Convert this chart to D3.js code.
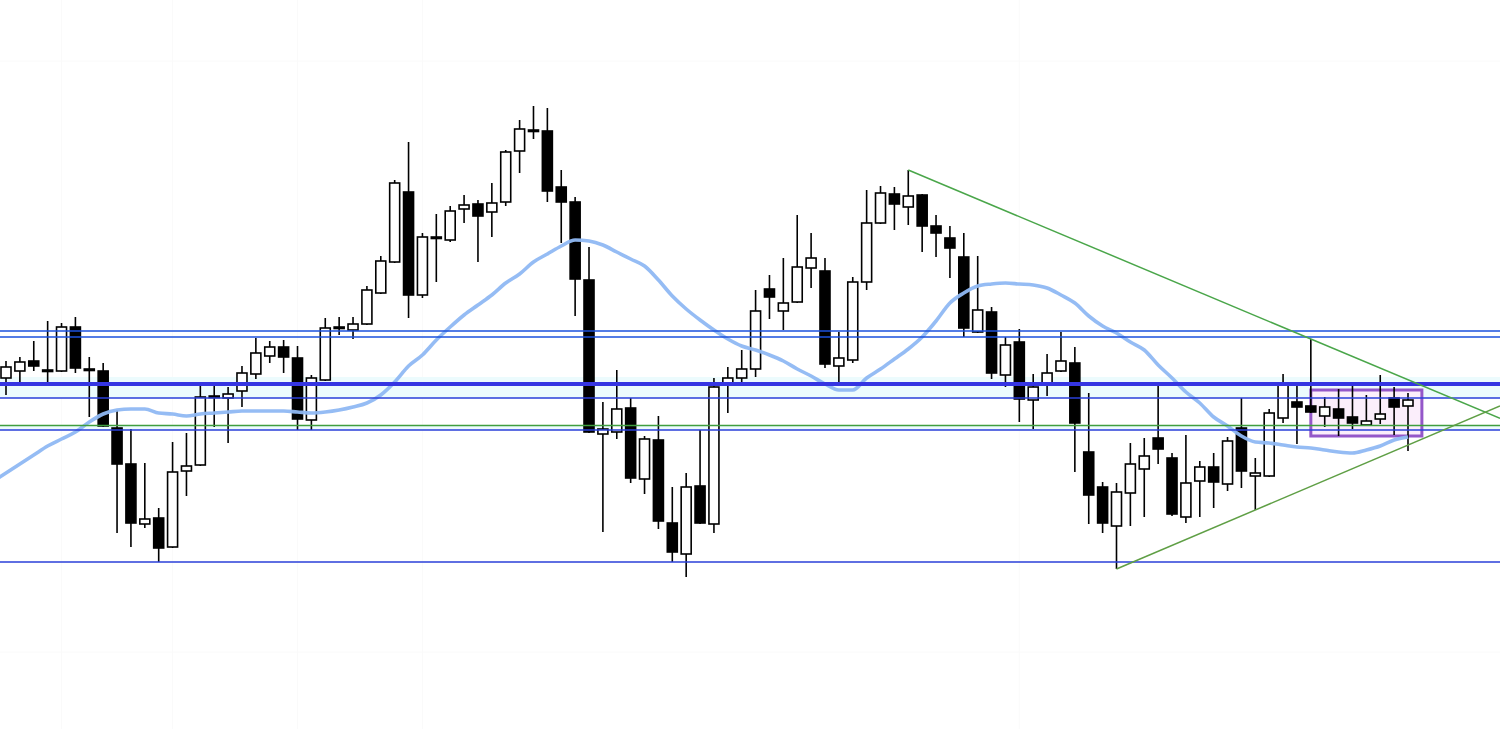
<!DOCTYPE html>
<html>
<head>
<meta charset="utf-8">
<script src="https://cdn.jsdelivr.net/npm/d3@7"></script>
<style>
html,body{margin:0;padding:0;background:#fff;overflow:hidden;}
svg{display:block;}
</style>
</head>
<body>
<svg id="chart" width="1500" height="729"></svg>
<script>
// ---- data (price in chart units, higher = higher) ----
const opens = [222,229,239,230,229,273,231,229,172,136,
  76,82,53,129,135,204,202,209,226,244,
  253,242,180,220,273,270,276,307,338,408,
  305,363,360,391,396,388,398,449,470,469,
  413,398,320,166,168,192,121,160,77,46,
  114,76,216,222,231,311,289,298,332,329,
  234,240,318,377,406,393,405,374,362,343,
  268,288,225,258,200,217,229,237,148,113,
  74,107,131,162,142,83,119,133,116,172,
  124,124,182,198,194,184,191,183,175,181,
  202,194];
const closes = [233,238,234,230,273,232,231,174,136,77,
  81,52,128,134,203,204,206,227,247,253,
  243,181,222,272,273,276,310,339,417,305,
  363,363,389,395,384,397,448,471,470,409,
  398,321,168,171,191,122,161,79,48,113,
  77,213,222,231,289,303,297,333,342,236,
  242,318,377,407,396,404,374,367,352,272,
  290,227,255,201,213,227,239,177,105,77,
  108,136,144,151,86,117,133,118,159,129,
  127,187,217,193,188,193,182,177,179,186,
  193,200];
const highs = [239,243,259,279,277,283,243,237,190,171,
  137,92,158,167,217,215,213,234,262,259,
  260,254,225,282,283,283,314,344,420,458,
  367,386,394,405,400,417,450,480,494,492,
  430,403,353,198,230,202,164,184,113,127,
  170,222,233,250,310,325,342,385,367,342,
  268,323,410,414,413,430,406,385,374,367,
  344,293,263,271,226,246,268,253,207,118,
  117,157,162,214,147,165,139,147,163,202,
  142,191,226,215,261,203,211,218,205,225,
  213,207];
const lows = [205,217,229,218,228,227,183,173,67,53,
  72,38,52,104,134,173,157,193,221,237,
  227,170,170,219,265,261,275,306,337,282,
  302,318,358,377,338,363,394,427,461,398,
  357,284,167,68,161,117,106,71,38,23,
  76,67,187,218,223,281,270,297,312,232,
  214,237,310,376,370,375,348,343,322,263,
  267,221,213,178,171,204,228,128,76,67,
  31,74,83,136,84,77,83,92,109,112,
  90,123,177,156,187,173,164,171,174,176,
  165,149];
// moving average, one value per bar; first entry belongs to the bar just off the left edge
const maStartIdx = -1;
const maValues = [118,127,136,145,154,161,168,178,186,190,191,
  191,187,186,184,186,187,188,189,189,189,
  189,188,187,188,190,193,197,205,218,234,
  245,260,273,285,295,305,317,326,338,346,
  354,360,359,355,348,341,334,320,304,291,
  280,270,261,254,250,245,239,231,224,216,
  210,210,222,231,241,251,263,279,297,307,
  314,316,317,316,315,312,305,297,284,274,
  267,258,250,235,222,208,197,183,174,164,
  158,157,155,153,152,150,148,147,150,154,
  160,163];

// horizontal levels
const blueLevels = [269, 263, 202, 170, 38];
const thickLevels = [216];
const greenLevels = [174.5];
const zoneBands = [[202, 223], [170, 175]];
// trendlines: [index, value] anchor pairs
const upperTrend = [[65, 430], [94, 261]];
const lowerTrend = [[80, 31], [90, 90]];
// consolidation box: index range and value range
const boxIdx = [94, 102];
const boxVal = [164, 210];
// faint grid
const gridIdx = [4, 12, 21, 30, 73];
const gridVals = [539, -52];

// ---- drawing ----
const W = 1500, H = 729;
const svg = d3.select("#chart");
const n = opens.length;
const x = d3.scaleLinear().domain([0, n - 1]).range([6, 1408]);
const y = d3.scaleLinear().domain([0, 600]).range([600, 0]);
const data = d3.range(n).map(i => ({i, o: opens[i], h: highs[i], l: lows[i], c: closes[i]}));

svg.append("rect").attr("width", W).attr("height", H).attr("fill", "#fff");

// grid
svg.append("g").selectAll("line").data(gridIdx).join("line")
  .attr("x1", d => x(d)).attr("x2", d => x(d)).attr("y1", 0).attr("y2", H)
  .attr("stroke", "#fafafa").attr("stroke-width", 1);
svg.append("g").selectAll("line").data(gridVals).join("line")
  .attr("x1", 0).attr("x2", W).attr("y1", d => y(d)).attr("y2", d => y(d))
  .attr("stroke", "#fafafa").attr("stroke-width", 1);

// zone bands
svg.append("g").selectAll("rect").data(zoneBands).join("rect")
  .attr("x", 0).attr("width", W)
  .attr("y", d => y(d[1])).attr("height", d => y(d[0]) - y(d[1]))
  .attr("fill", "#ecfbfd");

// box (behind candles)
svg.append("rect")
  .attr("x", x(boxIdx[0])).attr("width", x(boxIdx[1]) - x(boxIdx[0]))
  .attr("y", y(boxVal[1])).attr("height", y(boxVal[0]) - y(boxVal[1]))
  .attr("fill", "#fbeefb").attr("stroke", "#9457c9").attr("stroke-width", 3);

// candles
const bw = 10;
const cg = svg.append("g");
cg.selectAll("line.wick").data(data).join("line").attr("class", "wick")
  .attr("x1", d => x(d.i)).attr("x2", d => x(d.i))
  .attr("y1", d => y(d.h)).attr("y2", d => y(d.l))
  .attr("stroke", "#000").attr("stroke-width", 1.6);
cg.selectAll("rect.body").data(data).join("rect").attr("class", "body")
  .attr("x", d => x(d.i) - bw / 2).attr("width", bw)
  .attr("y", d => y(Math.max(d.o, d.c)))
  .attr("height", d => Math.max(1.5, Math.abs(y(d.o) - y(d.c))))
  .attr("fill", d => d.c > d.o ? "#fff" : "#000")
  .attr("stroke", "#000").attr("stroke-width", 1.6);

// moving average
const maLine = d3.line().x((d, i) => x(i + maStartIdx)).y(d => y(d)).curve(d3.curveMonotoneX);
svg.append("path").datum(maValues).attr("d", maLine)
  .attr("fill", "none").attr("stroke", "#8fb8f3").attr("stroke-width", 3.6)
  .attr("stroke-linejoin", "round").attr("opacity", 0.95);

// horizontal levels
svg.append("g").selectAll("line").data(blueLevels).join("line")
  .attr("x1", 0).attr("x2", W).attr("y1", d => y(d)).attr("y2", d => y(d))
  .attr("stroke", (d, i) => i < 2 ? "#1b50dc" : "#2a3fd8").attr("stroke-width", 1.6);
svg.append("g").selectAll("line").data(thickLevels).join("line")
  .attr("x1", 0).attr("x2", W).attr("y1", d => y(d)).attr("y2", d => y(d))
  .attr("stroke", "#3535e2").attr("stroke-width", 4.2);
svg.append("g").selectAll("line").data(greenLevels).join("line")
  .attr("x1", 0).attr("x2", W).attr("y1", d => y(d)).attr("y2", d => y(d))
  .attr("stroke", "#3f9e3f").attr("stroke-width", 1.4);

// trendlines extended to right edge
function trend(pts, color) {
  const [p0, p1] = pts;
  const x0 = x(p0[0]), y0 = y(p0[1]), x1 = x(p1[0]), y1 = y(p1[1]);
  const slope = (y1 - y0) / (x1 - x0);
  svg.append("line").attr("x1", x0).attr("y1", y0)
    .attr("x2", W).attr("y2", y0 + slope * (W - x0))
    .attr("stroke", color).attr("stroke-width", 1.5);
}
trend(upperTrend, "#4aa64a");
trend(lowerTrend, "#5f9f45");
</script>
</body>
</html>
